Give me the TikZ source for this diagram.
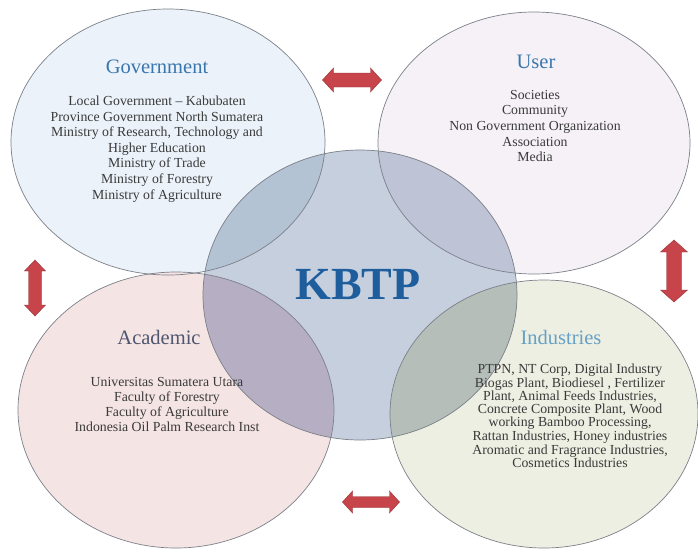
\documentclass[tikz,border=0pt]{standalone}
\usepackage{fontspec}
\setmainfont{Liberation Serif}
\definecolor{govfill}{HTML}{EBF2F9}
\definecolor{userfill}{HTML}{F5F1F6}
\definecolor{acafill}{HTML}{F5E4E4}
\definecolor{indfill}{HTML}{EDEFE2}
\definecolor{kbtpfill}{HTML}{C6CFDE}
\definecolor{govov}{HTML}{B4C3D4}
\definecolor{userov}{HTML}{BEC4D6}
\definecolor{acaov}{HTML}{B6AFC3}
\definecolor{indov}{HTML}{B5BEB9}
\definecolor{ringline}{HTML}{7C8089}
\definecolor{titleblue}{HTML}{3A76AE}
\definecolor{titleslate}{HTML}{4E5670}
\definecolor{titlelight}{HTML}{65A0C6}
\definecolor{kbtpblue}{HTML}{1F5E9C}
\definecolor{bodygray}{HTML}{3A3A3A}
\definecolor{arrowred}{HTML}{C6444A}
\begin{document}
\begin{tikzpicture}[x=1pt,y=-1pt,
  ring/.style={draw=ringline,line width=0.7pt},
  titletext/.style={font=\fontsize{20.5}{22}\selectfont,inner sep=0pt},
  bodytext/.style={font=\fontsize{13.8}{15.6}\selectfont,align=center,text=bodygray,inner sep=0pt},
  redarrow/.style={fill=arrowred,draw=arrowred!75!black,line width=0.4pt,line join=miter},
  pics/dblarrow/.style args={#1/#2/#3/#4}{code={%
    \path[redarrow] (-#1/2,0) -- (-#1/2+#4,-#3) -- (-#1/2+#4,-#2) -- (#1/2-#4,-#2) -- (#1/2-#4,-#3)
      -- (#1/2,0) -- (#1/2-#4,#3) -- (#1/2-#4,#2) -- (-#1/2+#4,#2) -- (-#1/2+#4,#3) -- cycle;}}]
\useasboundingbox[fill=white] (0,0) rectangle (698,552);
% outer circles
\fill[govfill] (168,142) ellipse [x radius=157pt, y radius=133pt];
\fill[userfill] (534,143) ellipse [x radius=156pt, y radius=131pt];
\fill[acafill] (176,410) ellipse [x radius=158pt, y radius=138pt];
\fill[indfill] (544,414) ellipse [x radius=154pt, y radius=134pt];
% KBTP circle
\fill[kbtpfill] (360,295) ellipse [x radius=157pt, y radius=145pt];
\begin{scope}
  \clip (360,295) ellipse [x radius=157pt, y radius=145pt];
  \fill[govov] (168,142) ellipse [x radius=157pt, y radius=133pt];
  \fill[userov] (534,143) ellipse [x radius=156pt, y radius=131pt];
  \fill[acaov] (176,410) ellipse [x radius=158pt, y radius=138pt];
  \fill[indov] (544,414) ellipse [x radius=154pt, y radius=134pt];
\end{scope}
% outlines
\draw[ring] (168,142) ellipse [x radius=157pt, y radius=133pt];
\draw[ring] (534,143) ellipse [x radius=156pt, y radius=131pt];
\draw[ring] (176,410) ellipse [x radius=158pt, y radius=138pt];
\draw[ring] (544,414) ellipse [x radius=154pt, y radius=134pt];
\draw[ring] (360,295) ellipse [x radius=157pt, y radius=145pt];
% titles
\node[titletext,text=titleblue] (govtitle) at (157,67) {Government};
\node[titletext,text=titleblue] (usertitle) at (536,62) {User};
\node[titletext,text=titleslate] (acatitle) at (159,337) {Academic};
\node[titletext,text=titlelight] (indtitle) at (561,337) {Industries};
\node[font=\fontsize{46}{50}\selectfont\bfseries,text=kbtpblue,inner sep=0pt] (kbtp) at (358,285) {KBTP};
% body texts
\node[bodytext] (govtext) at (157,149) {Local Government -- Kabubaten\\Province Government North Sumatera\\Ministry of Research, Technology and\\Higher Education\\Ministry of Trade\\Ministry of Forestry\\Ministry of Agriculture};
\node[bodytext] (usertext) at (535,126) {Societies\\Community\\Non Government Organization\\Association\\Media};
\node[bodytext,font=\fontsize{13.8}{15}\selectfont] (acatext) at (167,404) {Universitas Sumatera Utara\\Faculty of Forestry\\Faculty of Agriculture\\Indonesia Oil Palm Research Inst};
\node[bodytext,font=\fontsize{13.8}{12.4}\selectfont] (indtext) at (570,416) {PTPN, NT Corp, Digital Industry\\Biogas Plant, Biodiesel , Fertilizer\\Plant, Animal Feeds Industries,\\Concrete Composite Plant, Wood\\working Bamboo Processing,\\Rattan Industries, Honey industries\\Aromatic and Fragrance Industries,\\Cosmetics Industries};
% arrows
\pic (toparrow) at (352,80) {dblarrow={59/7/12/11}};
\pic (botarrow) at (371,502) {dblarrow={57/5.5/11/10}};
\pic[rotate=90] (leftarrow) at (35,288) {dblarrow={56/6.5/10.5/11}};
\pic[rotate=90] (rightarrow) at (674,271) {dblarrow={62/7.5/13.5/12}};
\end{tikzpicture}
\end{document}
